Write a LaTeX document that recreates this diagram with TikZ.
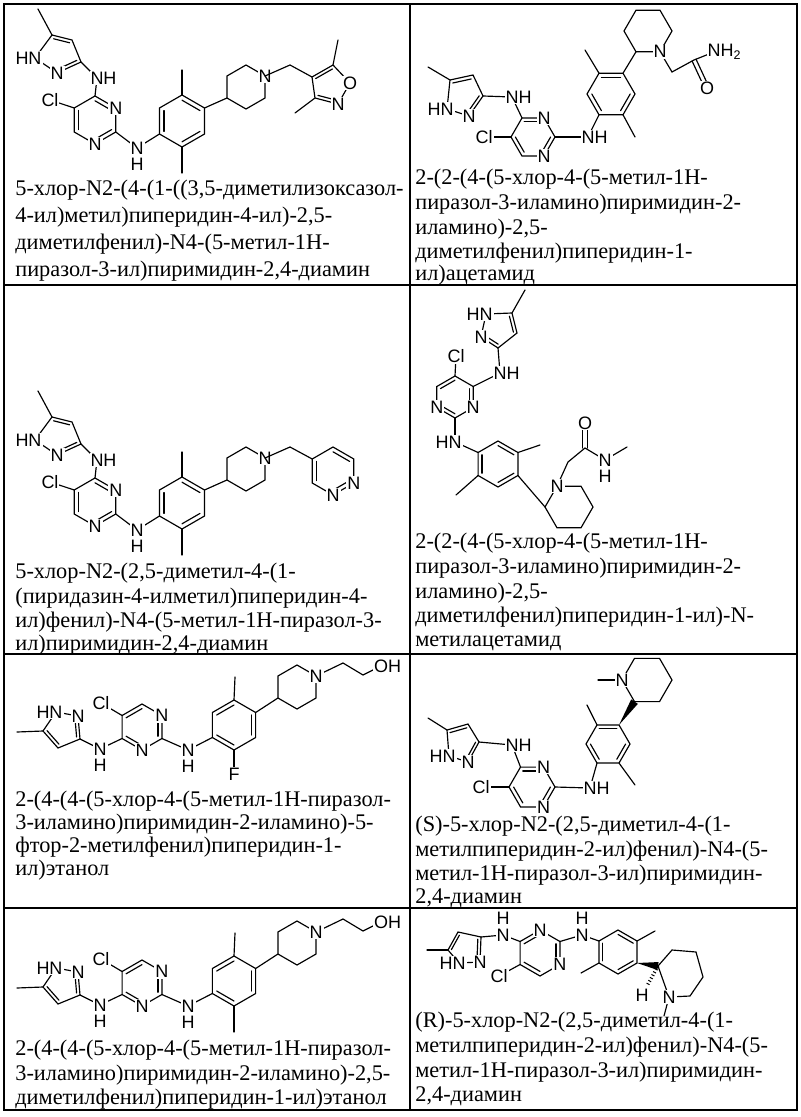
\documentclass[tikz,border=0pt]{standalone}
\usepackage{fontspec}
\setmainfont{Liberation Serif}
\newfontfamily\labfont{Liberation Sans}
\usetikzlibrary{calc}
\tikzset{
  bond/.style={line width=0.7pt, line cap=round},
  lab/.style={fill=white, inner sep=0.6pt, font=\labfont\fontsize{10.8}{10.8}\selectfont},
  txt/.style={anchor=base west, inner sep=0pt, font=\fontsize{13.4}{15}\selectfont},
  tbl/.style={line width=0.9pt}
}
\newcommand\hexring[4]{%
  \foreach \k in {1,...,6}{\coordinate (#1\k) at ($(#2)+({#4+60*(\k-1)}:#3)$);}
  \coordinate (#1c) at (#2);
  \draw[bond] (#11)--(#12)--(#13)--(#14)--(#15)--(#16)--cycle;}
\newcommand\ib[3]{\draw[bond] ($(#1)!.2!(#3)$)--($(#2)!.2!(#3)$);}
\newcommand\dbo[2]{\draw[bond] ($(#1)!1.3pt!90:(#2)$)--($(#2)!1.3pt!-90:(#1)$);
  \draw[bond] ($(#1)!1.3pt!-90:(#2)$)--($(#2)!1.3pt!90:(#1)$);}
\newcommand\wedgeb[2]{\fill (#1) -- ($(#2)!2.4pt!90:(#1)$) -- ($(#2)!2.4pt!-90:(#1)$) -- cycle;}
% common part of cells 1 and 3
\newcommand\molA{%
  \coordinate (z1) at (52,35); \coordinate (z2) at (72,40); \coordinate (z3) at (81,62);
  \coordinate (z4) at (57,73); \coordinate (z5) at (35,58); \coordinate (zc) at (60,54);
  \draw[bond] (z1)--(z2)--(z3)--(z4)--(z5)--cycle; \ib{z1}{z2}{zc}\ib{z3}{z4}{zc}
  \coordinate (zm) at (38,9); \draw[bond] (z1)--(zm);
  \coordinate (n1) at (97,78); \draw[bond] (z3)--(n1);
  \hexring{p}{95,120}{24}{-90}
  \ib{p1}{p2}{pc}\ib{p3}{p4}{pc}\ib{p5}{p6}{pc}
  \draw[bond] (n1)--(p1);
  \coordinate (cl) at (50,100); \draw[bond] (p6)--(cl);
  \coordinate (n2) at (137,148); \draw[bond] (p3)--(n2);
  \hexring{b}{182,121}{26}{150}
  \ib{b1}{b2}{bc}\ib{b3}{b4}{bc}\ib{b5}{b6}{bc}
  \coordinate (bm1) at (182,173); \coordinate (bm2) at (182,70);
  \draw[bond] (b6)--(bm1); \draw[bond] (b3)--(bm2); \draw[bond] (n2)--(b1);
  \hexring{q}{246,87}{22}{150}
  \draw[bond] (b4)--(q1);
  \node[lab] at (z5) {\llap{H}N}; \node[lab] at (z4) {N};
  \node[lab] at (n1) {N\rlap{H}}; \node[lab] at (cl) {Cl};
  \node[lab] at (p2) {N}; \node[lab] at (p4) {N};
  \node[lab] at (n2) {N}; \node[lab,fill=none] at ($(n2)+(0,16)$) {H};
  \node[lab] at (q4) {N};
}
% common part of cells 5 and 7
\newcommand\molE{%
  \coordinate (e1) at (56,712); \coordinate (e2) at (78,716); \coordinate (e3) at (80,739);
  \coordinate (e4) at (58,748); \coordinate (e5) at (43,731); \coordinate (ec) at (63,729);
  \draw[bond] (e1)--(e2)--(e3)--(e4)--(e5)--cycle; \ib{e5}{e4}{ec}\ib{e3}{e2}{ec}
  \coordinate (em) at (17,732); \draw[bond] (e5)--(em);
  \coordinate (n7) at (100,749); \draw[bond] (e3)--(n7);
  \hexring{f}{142,727}{23}{150}
  \ib{f2}{f3}{fc}\ib{f4}{f5}{fc}\ib{f6}{f1}{fc}
  \draw[bond] (n7)--(f1);
  \coordinate (cl) at (101,703); \draw[bond] (f2)--(cl);
  \coordinate (n8) at (188,750); \draw[bond] (f5)--(n8);
  \hexring{g}{234,725}{25}{150}
  \ib{g2}{g3}{gc}\ib{g4}{g5}{gc}\ib{g6}{g1}{gc}
  \draw[bond] (n8)--(g1);
  \coordinate (gm) at (235,677); \draw[bond] (g3)--(gm);
  \hexring{h}{297,687}{22}{150}
  \draw[bond] (g4)--(h1);
  \coordinate (h7) at (343,663); \coordinate (h8) at (363,675); \coordinate (oh) at (381,666);
  \draw[bond] (h4)--(h7)--(h8)--(oh);
  \node[lab] at (e1) {\llap{H}N}; \node[lab] at (e2) {N};
  \node[lab] at (n7) {N}; \node[lab,fill=none] at ($(n7)+(0,16)$) {H};
  \node[lab] at (cl) {Cl}; \node[lab] at (f4) {N}; \node[lab] at (f6) {N};
  \node[lab] at (n8) {N}; \node[lab,fill=none] at ($(n8)+(0,16)$) {H};
  \node[lab] at (h4) {N}; \node[lab] at (oh) {O\rlap{H}};
}
\begin{document}
\begin{tikzpicture}[x=0.6pt,y=-0.6pt]
\useasboundingbox (0,0) rectangle (800,1117);
\fill[white] (0,0) rectangle (800,1117);
% table
\draw[tbl] (4,4) rectangle (797,1110);
\draw[tbl] (4,285) -- (797,285);
\draw[tbl] (4,654) -- (797,654);
\draw[tbl] (4,908) -- (797,908);
\draw[tbl] (410,4) -- (410,1110);

% ===== cell 1
\molA
\coordinate (ch1) at (290,65);
\coordinate (i1) at (312,77); \coordinate (i2) at (333,65); \coordinate (i3) at (350,83);
\coordinate (i4) at (338,104); \coordinate (i5) at (315,98); \coordinate (ic) at (330,85);
\draw[bond] (q4)--(ch1)--(i1);
\draw[bond] (i1)--(i2)--(i3)--(i4)--(i5)--cycle; \ib{i1}{i2}{ic}\ib{i4}{i5}{ic}
\coordinate (im1) at (338,40); \coordinate (im2) at (295,113);
\draw[bond] (i2)--(im1); \draw[bond] (i5)--(im2);
\node[lab] at (i3) {O}; \node[lab] at (i4) {N};
\node[txt] (t1a) at (15,196) {5-хлор-N2-(4-(1-((3,5-диметилизоксазол-};
\node[txt] (t1b) at (15,223) {4-ил)метил)пиперидин-4-ил)-2,5-};
\node[txt] (t1c) at (15,250) {диметилфенил)-N4-(5-метил-1H-};
\node[txt] (t1d) at (15,277) {пиразол-3-ил)пиримидин-2,4-диамин};

% ===== cell 3
\begin{scope}[shift={(0,382)}]
\molA
\end{scope}
\coordinate (ch3) at (290,447);
\hexring{d}{333,471}{24}{210}
\draw[bond] (q4)--(ch3)--(d1);
\ib{d6}{d1}{dc}\ib{d2}{d3}{dc}\ib{d4}{d5}{dc}
\node[lab] at (d4) {N}; \node[lab] at (d5) {N};
\node[txt] (t3a) at (15,578) {5-хлор-N2-(2,5-диметил-4-(1-};
\node[txt] (t3b) at (15,603) {(пиридазин-4-илметил)пиперидин-4-};
\node[txt] (t3c) at (15,627) {ил)фенил)-N4-(5-метил-1H-пиразол-3-};
\node[txt] (t3d) at (15,650) {ил)пиримидин-2,4-диамин};

% ===== cell 2
\coordinate (y1) at (450,80); \coordinate (y2) at (473,75); \coordinate (y3) at (483,96);
\coordinate (y4) at (469,116); \coordinate (y5) at (447,109); \coordinate (yc) at (464,95);
\draw[bond] (y1)--(y2)--(y3)--(y4)--(y5)--cycle; \ib{y1}{y2}{yc}\ib{y3}{y4}{yc}
\coordinate (ym) at (428,67); \draw[bond] (y1)--(ym);
\coordinate (n3) at (512,97); \draw[bond] (y3)--(n3);
\hexring{r}{533,137}{22}{0}
\ib{r5}{r6}{rc}\ib{r1}{r2}{rc}\ib{r3}{r4}{rc}
\draw[bond] (n3)--(r5);
\coordinate (cl2) at (484,137); \draw[bond] (r4)--(cl2);
\coordinate (n4) at (588,137); \draw[bond] (r1)--(n4);
\hexring{s}{611,94}{24}{0}
\ib{s3}{s4}{sc}\ib{s5}{s6}{sc}\ib{s1}{s2}{sc}
\draw[bond] (n4)--(s3);
\coordinate (sm1) at (585,50); \coordinate (sm2) at (635,137);
\draw[bond] (s5)--(sm1); \draw[bond] (s2)--(sm2);
\hexring{t}{648,31}{24}{0}
\draw[bond] (s6)--(t3);
\coordinate (ch2) at (672,72); \coordinate (co2) at (694,60); \coordinate (o2) at (707,88); \coordinate (nh2) at (714,52);
\draw[bond] (t2)--(ch2)--(co2)--(nh2);
\dbo{co2}{o2}
\node[lab] at (y5) {\llap{H}N}; \node[lab] at (y4) {N};
\node[lab] at (n3) {N\rlap{H}}; \node[lab] at (cl2) {Cl};
\node[lab] at (r6) {N}; \node[lab] at (r2) {N};
\node[lab] at (n4) {N\rlap{H}}; \node[lab] at (t2) {N};
\node[lab] at (o2) {O}; \node[lab] at (nh2) {N\rlap{H\raisebox{-2pt}{\fontsize{7.5}{7.5}\selectfont 2}}};
\node[txt] (t2a) at (415,185) {2-(2-(4-(5-хлор-4-(5-метил-1H-};
\node[txt] (t2b) at (415,210) {пиразол-3-иламино)пиримидин-2-};
\node[txt] (t2c) at (415,235) {иламино)-2,5-};
\node[txt] (t2d) at (415,259) {диметилфенил)пиперидин-1-};
\node[txt] (t2e) at (415,281) {ил)ацетамид};

% ===== cell 4
\coordinate (u1) at (512,313); \coordinate (u2) at (517,333); \coordinate (u3) at (498,348);
\coordinate (u4) at (481,337); \coordinate (u5) at (486,314); \coordinate (uc) at (499,329);
\draw[bond] (u1)--(u2)--(u3)--(u4)--(u5)--cycle; \ib{u1}{u2}{uc}\ib{u3}{u4}{uc}
\coordinate (um) at (525,290); \draw[bond] (u1)--(um);
\coordinate (n5) at (500,373); \draw[bond] (u3)--(n5);
\hexring{v}{455,397}{21}{270}
\ib{v6}{v1}{vc}\ib{v2}{v3}{vc}\ib{v4}{v5}{vc}
\draw[bond] (n5)--(v2);
\coordinate (cl4) at (456,356); \draw[bond] (v1)--(cl4);
\coordinate (n6) at (455,442); \draw[bond] (v4)--(n6);
\hexring{w}{498,464}{23}{210}
\ib{w6}{w1}{wc}\ib{w2}{w3}{wc}\ib{w4}{w5}{wc}
\draw[bond] (n6)--(w1);
\coordinate (wm1) at (540,445); \coordinate (wm2) at (456,495);
\draw[bond] (w3)--(wm1); \draw[bond] (w6)--(wm2);
\hexring{x}{569,507}{24}{180}
\draw[bond] (w4)--(x1);
\coordinate (ch4) at (568,462); \coordinate (co4) at (585,448); \coordinate (o4) at (585,423);
\coordinate (nh4) at (605,460); \coordinate (me4) at (627,447);
\draw[bond] (x2)--(ch4)--(co4)--(nh4)--(me4);
\dbo{co4}{o4}
\node[lab] at (u5) {\llap{H}N}; \node[lab] at (u4) {N};
\node[lab] at (n5) {N\rlap{H}}; \node[lab] at (cl4) {Cl};
\node[lab] at (v3) {N}; \node[lab] at (v5) {N};
\node[lab] at (n6) {\llap{H}N}; \node[lab] at (x2) {N};
\node[lab] at (o4) {O}; \node[lab] at (nh4) {N}; \node[lab,fill=none] at ($(nh4)+(0,16)$) {H};
\node[txt] (t4a) at (415,548) {2-(2-(4-(5-хлор-4-(5-метил-1H-};
\node[txt] (t4b) at (415,573) {пиразол-3-иламино)пиримидин-2-};
\node[txt] (t4c) at (415,598) {иламино)-2,5-};
\node[txt] (t4d) at (415,622) {диметилфенил)пиперидин-1-ил)-N-};
\node[txt] (t4e) at (415,646) {метилацетамид};

% ===== cell 5
\molE
\coordinate (fl) at (234,774); \draw[bond] (g6)--(fl);
\node[lab] at (fl) {F};
\node[txt] (t5a) at (15,806) {2-(4-(4-(5-хлор-4-(5-метил-1H-пиразол-};
\node[txt] (t5b) at (15,829) {3-иламино)пиримидин-2-иламино)-5-};
\node[txt] (t5c) at (15,852) {фтор-2-метилфенил)пиперидин-1-};
\node[txt] (t5d) at (15,875) {ил)этанол};

% ===== cell 7
\begin{scope}[shift={(0,256)}]
\molE
\coordinate (gm7) at (234,776); \draw[bond] (g6)--(gm7);
\end{scope}
\node[txt] (t7a) at (15,1055) {2-(4-(4-(5-хлор-4-(5-метил-1H-пиразол-};
\node[txt] (t7b) at (15,1080) {3-иламино)пиримидин-2-иламино)-2,5-};
\node[txt] (t7c) at (15,1104) {диметилфенил)пиперидин-1-ил)этанол};

% ===== cell 6
\hexring{k}{647,680}{25}{0}
\coordinate (km) at (598,680); \draw[bond] (k4)--(km);
\hexring{l}{608,744}{22}{0}
\ib{l5}{l6}{lc}\ib{l1}{l2}{lc}\ib{l3}{l4}{lc}
\wedgeb{l6}{k3}
\coordinate (lm1) at (587,705); \coordinate (lm2) at (635,785);
\draw[bond] (l5)--(lm1); \draw[bond] (l2)--(lm2);
\coordinate (n9) at (590,788); \draw[bond] (l3)--(n9);
\hexring{m}{532,787}{23}{0}
\ib{m5}{m6}{mc}\ib{m1}{m2}{mc}\ib{m3}{m4}{mc}
\draw[bond] (m1)--(n9);
\coordinate (cl6) at (481,787); \draw[bond] (m4)--(cl6);
\coordinate (n10) at (512,745); \draw[bond] (m5)--(n10);
\coordinate (o1) at (447,730); \coordinate (o2) at (468,724); \coordinate (o3) at (479,742);
\coordinate (o4) at (468,762); \coordinate (o5) at (449,756); \coordinate (oc) at (462,743);
\draw[bond] (o1)--(o2)--(o3)--(o4)--(o5)--cycle; \ib{o1}{o2}{oc}\ib{o3}{o4}{oc}
\coordinate (om) at (428,718); \draw[bond] (o1)--(om);
\draw[bond] (o3)--(n10);
\node[lab] at (k4) {N};
\node[lab] at (n9) {N\rlap{H}}; \node[lab] at (cl6) {Cl};
\node[lab] at (m2) {N}; \node[lab] at (m6) {N};
\node[lab] at (n10) {N\rlap{H}};
\node[lab] at (o5) {\llap{H}N}; \node[lab] at (o4) {N};
\node[txt] (t6a) at (415,831) {(S)-5-хлор-N2-(2,5-диметил-4-(1-};
\node[txt] (t6b) at (415,856) {метилпиперидин-2-ил)фенил)-N4-(5-};
\node[txt] (t6c) at (415,880) {метил-1H-пиразол-3-ил)пиримидин-};
\node[txt] (t6d) at (415,903) {2,4-диамин};

% ===== cell 8
\coordinate (c1) at (448,950); \coordinate (c2) at (458,932); \coordinate (c3) at (481,937);
\coordinate (c4) at (480,962); \coordinate (c5) at (459,963); \coordinate (cc) at (465,948);
\draw[bond] (c1)--(c2)--(c3)--(c4)--(c5)--cycle; \ib{c1}{c2}{cc}\ib{c3}{c4}{cc}
\coordinate (cm) at (427,950); \draw[bond] (c1)--(cm);
\coordinate (n11) at (503,935); \draw[bond] (c3)--(n11);
\hexring{P}{540,953}{23}{270}
\ib{P6}{P1}{Pc}\ib{P2}{P3}{Pc}\ib{P4}{P5}{Pc}
\draw[bond] (n11)--(P6);
\coordinate (cl8) at (499,976); \draw[bond] (P5)--(cl8);
\coordinate (n12) at (582,935); \draw[bond] (P2)--(n12);
\hexring{Q}{618,952}{22}{210}
\ib{Q6}{Q1}{Qc}\ib{Q2}{Q3}{Qc}\ib{Q4}{Q5}{Qc}
\draw[bond] (n12)--(Q1);
\coordinate (qm1) at (655,931); \coordinate (qm2) at (581,973);
\draw[bond] (Q3)--(qm1); \draw[bond] (Q6)--(qm2);
\coordinate (R2) at (658,966); \coordinate (R3) at (672,950); \coordinate (R4) at (696,952);
\coordinate (R5) at (703,977); \coordinate (R6) at (690,996); \coordinate (RN) at (669,997);
\draw[bond] (R2)--(R3)--(R4)--(R5)--(R6)--(RN)--cycle;
\wedgeb{Q4}{R2}
\coordinate (RM) at (664,1016); \draw[bond] (RN)--(RM);
\coordinate (RH) at (642,995);
\draw[line width=2pt, dash pattern=on 0.6pt off 1.4pt] (R2)--($(RH)!0.3!(R2)$);
\node[lab] at (c5) {\llap{H}N}; \node[lab] at (c4) {N};
\node[lab] at (n11) {N}; \node[lab,fill=none] at ($(n11)+(0,-17)$) {H};
\node[lab] at (P1) {N}; \node[lab] at (P3) {N}; \node[lab] at (cl8) {Cl};
\node[lab] at (n12) {N}; \node[lab,fill=none] at ($(n12)+(0,-17)$) {H};
\node[lab] at (RN) {N}; \node[lab] at (RH) {H};
\node[txt] (t8a) at (415,1027) {(R)-5-хлор-N2-(2,5-диметил-4-(1-};
\node[txt] (t8b) at (415,1052) {метилпиперидин-2-ил)фенил)-N4-(5-};
\node[txt] (t8c) at (415,1077) {метил-1H-пиразол-3-ил)пиримидин-};
\node[txt] (t8d) at (415,1101) {2,4-диамин};
\end{tikzpicture}
\end{document}
